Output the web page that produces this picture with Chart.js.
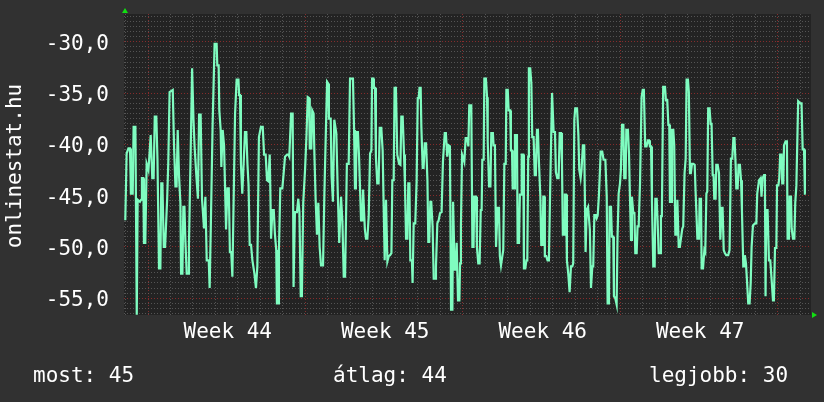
<!DOCTYPE html>
<html>
<head>
<meta charset="utf-8">
<script src="https://cdn.jsdelivr.net/npm/chart.js@4/dist/chart.umd.min.js"></script>
<style>
html,body{margin:0;padding:0;background:#313131;}
canvas{display:block;}
</style>
</head>
<body>
<canvas id="chart" width="824" height="402"></canvas>
<script>
// ===================== Daten =====================
// Zeit in Tagen ab Beginn von Week 44, Wert = negativer Rang
const sampleDays = [
    -1.01,-0.95,-0.87,-0.80,-0.76,-0.68,-0.64,-0.56,-0.50,-0.46,
    -0.36,-0.31,-0.27,-0.21,-0.18,-0.12,-0.06,0.02,0.12,0.19,
    0.25,0.30,0.37,0.42,0.49,0.55,0.59,0.64,0.70,0.76,
    0.85,0.90,0.96,1.10,1.16,1.22,1.27,1.32,1.38,1.44,
    1.47,1.53,1.57,1.62,1.66,1.72,1.78,1.82,1.91,1.96,
    2.02,2.07,2.15,2.22,2.27,2.34,2.40,2.49,2.55,2.61,
    2.70,2.74,2.79,2.87,2.96,3.05,3.08,3.14,3.17,3.23,
    3.26,3.32,3.38,3.47,3.53,3.59,3.64,3.70,3.75,3.87,
    3.94,4.02,
    4.05,4.09,4.13,4.19,4.25,4.31,4.37,4.42,4.47,4.52,
    4.58,4.64,4.73,4.80,4.86,4.93,5.02,5.10,5.16,5.23,
    5.29,5.35,5.41,5.44,5.47,5.53,5.59,5.64,5.70,5.73,
    5.79,5.82,5.88,5.97,6.03,6.09,6.18,6.24,6.28,6.36,
    6.43,6.47,6.53,6.62,6.68,6.73,6.79,6.84,6.90,6.98,
    7.04,7.10,7.16,7.19,7.26,7.30,7.36,7.39,7.45,7.51,
    7.57,7.63,7.69,7.78,7.84,7.90,7.96,8.02,8.04,8.12,
    8.16,8.22,8.28,8.37,8.44,8.50,8.58,8.64,8.70,8.76,
    8.84,8.92,8.98,9.11,
    9.16,9.20,9.24,9.27,9.33,9.38,9.42,9.47,9.53,9.56,
    9.60,9.64,9.69,9.75,9.81,9.87,9.93,9.96,10.02,10.04,
    10.09,10.13,10.19,10.25,10.30,10.37,10.43,10.47,10.52,10.58,
    10.64,10.70,10.76,10.82,10.86,10.92,10.96,11.02,11.08,11.16,
    11.22,11.26,11.32,11.38,11.42,11.47,11.53,11.57,11.62,11.66,
    11.73,11.76,11.81,11.88,11.94,11.99,12.03,12.07,12.12,12.15,
    12.21,12.25,12.30,12.36,12.42,12.46,12.50,12.55,12.59,12.65,
    12.70,12.76,12.80,12.86,12.92,12.98,13.05,13.11,13.19,13.24,
    13.30,13.36,13.42,13.47,13.53,13.56,13.60,13.63,13.69,13.72,
    13.78,13.84,13.87,13.91,13.96,14.02,14.06,14.12,14.19,14.24,
    14.28,
    14.33,14.37,14.42,14.47,14.50,14.58,14.62,14.68,14.74,14.79,
    14.83,14.86,14.92,14.95,15.02,15.07,15.10,15.16,15.22,15.26,
    15.33,15.36,15.42,15.47,15.51,15.54,15.60,15.64,15.69,15.75,
    15.79,15.84,15.90,15.93,15.99,16.03,16.10,16.13,16.18,16.21,
    16.27,16.31,16.40,16.43,16.49,16.53,16.58,16.61,16.68,16.71,
    16.77,16.82,16.86,16.90,16.93,16.99,17.04,17.08,17.14,17.19,
    17.24,17.29,17.33,17.38,17.44,17.48,17.54,17.57,17.62,17.64,
    17.70,17.76,17.82,17.87,17.91,17.96,18.00,18.03,18.09,18.13,
    18.19,18.25,18.30,18.36,18.40,18.44,18.50,18.53,18.58,18.62,
    18.68,18.74,18.80,18.86,18.90,18.95,18.99,19.07,19.13,19.17,
    19.23,19.27,19.33,19.39,
    19.45,19.50,19.56,19.60,19.64,19.69,19.75,19.79,19.84,19.90,
    19.94,19.99,20.04,20.09,20.12,20.19,20.25,20.33,20.39,20.43,
    20.49,20.52,20.58,20.62,20.68,20.71,20.77,20.83,20.87,20.92,
    20.98,21.02,21.07,21.13,21.17,21.23,21.26,21.33,21.38,21.42,
    21.47,21.51,21.57,21.62,21.66,21.72,21.76,21.81,21.87,21.94,
    21.99,22.04,22.10,22.16,22.22,22.27,22.31,22.36,22.40,22.46,
    22.52,22.55,22.61,22.65,22.70,22.76,22.80,22.84,22.90,22.98,
    23.02,23.08,23.13,23.17,23.20,23.26,23.29,23.35,23.39,23.44,
    23.50,23.53,23.59,23.64,23.70,23.75,23.79,23.85,23.90,23.94,
    24.00,24.04,24.09,24.13,24.18,24.24,24.30,24.34,24.42,24.49,
    24.52,24.58,24.61,24.67,24.73,24.77,24.82,24.86,24.90,24.96,
    25.01,25.05,25.10,25.14,25.17,25.23,25.26,25.32,25.38,25.44,
    25.50,25.54,25.59,25.64,25.70,25.79,25.85,25.91,25.97,26.02,
    26.07,26.12,26.15,26.21,26.25,26.31,26.36,26.40,26.46,26.50,
    26.53,26.58,26.62,26.68,26.74,26.79,26.83,26.89,26.98,27.04,
    27.08,27.16,27.23,27.27,27.32,27.38,27.42,27.45,27.48,27.54,
    27.60,27.66,27.72,27.78,27.82,27.87,27.93,27.96,28.02,28.06,
    28.10,28.16,28.19,28.24,28.27,28.34,28.40,28.43,28.49,28.52,
    28.58,28.61,28.67,28.73,28.77,28.82,28.84,28.90,28.99,29.05,
    29.10,29.16,29.20,29.24
];
const sampleRanks = [
    -47.4,-40.9,-40.4,-40.4,-44.8,-44.8,-38.3,-38.3,-56.6,-45.4,
    -45.6,-45.4,-43.3,-43.3,-49.6,-49.6,-41.9,-42.5,-39.1,-43.3,
    -43.3,-37.3,-37.3,-41.4,-52.1,-52.1,-43.8,-43.8,-50.0,-50.0,
    -45.4,-41.9,-34.9,-34.7,-40.4,-44.1,-44.1,-38.6,-43.1,-45.7,
    -52.6,-52.6,-46.1,-46.1,-49.3,-52.6,-52.6,-49.8,-39.1,-32.6,
    -37.5,-40.2,-43.1,-45.3,-37.1,-37.1,-45.3,-48.2,-45.1,-51.3,
    -51.3,-54.0,-48.2,-38.3,-30.2,-30.2,-32.3,-32.3,-36.7,-38.6,
    -42.2,-38.6,-40.1,-48.3,-44.3,-44.3,-50.5,-50.5,-52.9,-37.0,
    -33.7,-33.7,
    -35.2,-35.2,-41.9,-44.8,-41.9,-38.8,-38.8,-41.9,-44.0,-49.8,
    -49.8,-51.3,-52.6,-54.0,-51.9,-39.3,-38.3,-38.3,-41.0,-41.0,
    -43.5,-43.6,-41.0,-44.8,-49.2,-46.4,-46.4,-48.7,-50.3,-55.5,
    -55.5,-50.3,-44.3,-44.3,-42.8,-41.2,-41.0,-41.0,-41.2,-37.0,
    -37.0,-53.9,-46.6,-46.6,-45.3,-46.6,-54.8,-54.8,-45.7,-42.5,
    -39.4,-35.4,-35.5,-40.4,-40.4,-36.7,-37.0,-40.4,-45.3,-48.8,
    -45.7,-50.0,-51.8,-51.8,-44.8,-39.3,-33.9,-34.1,-37.5,-37.5,
    -43.1,-45.6,-37.6,-38.9,-45.1,-49.6,-45.1,-47.5,-52.9,-52.9,
    -41.9,-41.9,-33.6,-33.6,
    -38.6,-44.3,-44.3,-38.8,-38.8,-41.2,-41.2,-47.4,-47.4,-44.4,
    -44.4,-48.3,-49.2,-49.2,-47.0,-40.9,-40.6,-33.6,-33.6,-34.5,
    -34.5,-41.2,-43.8,-43.8,-38.4,-38.4,-40.6,-45.4,-51.3,-45.4,
    -51.4,-50.9,-50.8,-50.6,-43.5,-43.5,-34.5,-34.5,-41.0,-41.9,
    -42.0,-37.3,-37.3,-41.0,-43.8,-49.2,-49.2,-43.8,-43.8,-51.3,
    -51.3,-53.5,-47.7,-47.7,-43.6,-35.5,-35.5,-34.5,-34.5,-38.3,
    -42.3,-42.3,-39.9,-39.9,-43.5,-49.5,-49.5,-45.6,-45.6,-48.0,
    -53.1,-53.1,-51.9,-47.7,-47.4,-46.7,-46.6,-41.7,-38.9,-38.9,
    -41.2,-40.1,-40.2,-56.1,-56.1,-45.6,-45.6,-52.2,-52.2,-49.6,
    -55.2,-55.2,-51.6,-47.9,-41.0,-41.4,-41.7,-39.4,-39.4,-40.2,
    -36.2,
    -36.2,-36.2,-50.0,-50.0,-45.1,-45.1,-50.0,-51.6,-51.6,-46.4,
    -46.4,-41.5,-41.5,-33.6,-33.6,-35.4,-39.7,-44.1,-44.1,-38.9,
    -38.9,-40.1,-40.1,-50.0,-50.0,-46.2,-46.2,-50.9,-51.8,-50.9,
    -50.3,-41.9,-41.9,-34.7,-34.7,-36.7,-36.7,-40.6,-40.6,-44.3,
    -44.3,-39.1,-39.1,-49.6,-49.6,-44.9,-44.9,-41.0,-41.0,-52.1,
    -52.1,-51.3,-51.3,-41.2,-32.6,-32.6,-34.1,-39.3,-39.3,-43.0,
    -43.0,-38.6,-38.6,-41.9,-45.1,-49.8,-49.8,-45.1,-45.1,-50.9,
    -50.9,-51.3,-51.3,-45.1,-45.1,-35.0,-35.0,-38.8,-38.8,-42.7,
    -43.3,-43.3,-38.9,-38.9,-41.7,-48.8,-48.8,-44.9,-44.9,-51.3,
    -52.6,-54.4,-51.9,-51.9,-51.6,-37.6,-36.5,-36.5,-39.1,-42.5,
    -43.3,-42.5,-40.1,-40.1,
    -50.5,-46.4,-46.1,-46.1,-48.3,-54.0,-51.9,-51.9,-46.9,-46.9,
    -47.2,-46.9,-45.1,-42.5,-40.7,-40.7,-41.5,-41.5,-45.1,-55.5,
    -55.5,-46.1,-46.1,-49.0,-49.0,-54.8,-55.0,-55.6,-49.0,-44.8,
    -43.8,-42.5,-38.1,-38.1,-43.3,-43.3,-38.6,-38.6,-40.9,-44.9,
    -49.3,-45.1,-46.7,-46.7,-50.6,-50.6,-48.0,-48.0,-43.8,-35.4,
    -34.7,-34.7,-40.2,-40.2,-39.6,-39.6,-40.2,-40.2,-45.6,-51.9,
    -51.9,-45.3,-45.3,-47.4,-50.6,-50.6,-47.0,-47.0,-34.4,-34.4,
    -35.7,-35.7,-38.1,-38.1,-45.6,-45.6,-38.6,-38.6,-40.1,-48.8,
    -48.8,-45.4,-50.0,-50.0,-49.0,-48.2,-48.0,-42.8,-41.4,-33.7,
    -33.7,-34.9,-42.8,-42.8,-41.9,-41.9,-42.0,-44.6,-49.2,-49.2,
    -45.3,-45.3,-52.1,-52.1,-50.3,-50.5,-44.8,-44.6,-36.5,-36.5,
    -38.0,-38.0,-43.0,-43.0,-45.3,-45.3,-42.0,-42.0,-42.8,-49.3,
    -46.2,-46.2,-50.3,-50.6,-50.8,-50.8,-50.3,-41.4,-41.4,-39.4,
    -39.4,-42.0,-44.3,-44.3,-42.0,-42.0,-43.5,-46.4,-51.9,-51.9,
    -50.8,-51.6,-53.1,-55.5,-55.5,-53.5,-50.0,-47.9,-47.7,-47.7,
    -44.8,-43.5,-43.3,-45.1,-43.3,-43.0,-43.0,-54.8,-46.4,-46.4,
    -51.3,-51.3,-53.2,-55.2,-55.2,-50.1,-50.1,-44.0,-44.0,-43.3,
    -41.0,-41.0,-43.8,-43.8,-40.1,-39.7,-39.7,-49.2,-49.2,-45.1,
    -45.1,-48.2,-49.2,-49.2,-45.7,-44.0,-44.0,-35.8,-36.0,-36.0,
    -40.5,-40.5,-44.8,-44.8
];

const yTicks = [-30, -35, -40, -45, -50, -55];
const weekLabels = ["Week 44", "Week 45", "Week 46", "Week 47"];
const weekMids = [3.5, 10.5, 17.5, 24.5];
const yTitle = "onlinestat.hu";
const footer = ["most: 45", "átlag: 44", "legjobb: 30"];

const dayMin = -1.067, dayMax = 29.47;
const rankMin = -56.63, rankMax = -27.30;

// ===================== Farben =====================
const FONT = '21px "DejaVu Sans Mono", monospace';
const C_BG = "#313131", C_PLOT = "#232323";
const C_MINOR = "rgba(105,105,105,0.7)", C_MAJOR = "rgba(140,45,45,0.95)";
const C_LINE = "#7ffcc0", C_ARROW = "#12e012", C_TEXT = "#ffffff";

if (sampleDays.length !== sampleRanks.length) console.warn("length mismatch", sampleDays.length, sampleRanks.length);

// ===================== Plugin: Rahmen, Texte, Pfeile =====================
const rrdFrame = {
    id: "rrdFrame",
    beforeDraw(chart){
        const {ctx, chartArea:a} = chart;
        ctx.save();
        ctx.fillStyle = C_BG;
        ctx.fillRect(0, 0, chart.width, chart.height);
        ctx.fillStyle = C_PLOT;
        ctx.fillRect(a.left, a.top, a.right - a.left, a.bottom - a.top);
        ctx.restore();
    },
    afterDraw(chart){
        const {ctx, chartArea:a} = chart;
        const xs = chart.scales.x, ys = chart.scales.y;
        ctx.save();
        ctx.font = FONT;
        ctx.fillStyle = C_TEXT;
        ctx.textBaseline = "alphabetic";

        ctx.textAlign = "right";
        yTicks.forEach(v=>{
            ctx.fillText(v.toFixed(1).replace(".", ","), 109, ys.getPixelForValue(v) + 8);
        });

        ctx.textAlign = "center";
        weekLabels.forEach((t,i)=>{
            ctx.fillText(t, xs.getPixelForValue(weekMids[i]) + 1, 338);
        });

        ctx.textAlign = "left";
        ctx.fillText(footer[0], 33, 382);
        ctx.fillText(footer[1], 333, 382);
        ctx.fillText(footer[2], 649, 382);

        ctx.save();
        ctx.translate(21, 166);
        ctx.rotate(-Math.PI/2);
        ctx.textAlign = "center";
        ctx.fillText(yTitle, 0, 0);
        ctx.restore();

        // Achsenpfeile
        ctx.fillStyle = C_ARROW;
        ctx.beginPath();
        ctx.moveTo(a.left + 1, a.top - 6);
        ctx.lineTo(a.left - 2, a.top - 1);
        ctx.lineTo(a.left + 4, a.top - 1);
        ctx.closePath();
        ctx.fill();
        ctx.beginPath();
        ctx.moveTo(a.right + 6, a.bottom);
        ctx.lineTo(a.right + 1, a.bottom - 3);
        ctx.lineTo(a.right + 1, a.bottom + 3);
        ctx.closePath();
        ctx.fill();
        ctx.restore();
    }
};

// ===================== Chart =====================
new Chart(document.getElementById("chart"), {
    type: "line",
    data: {
        datasets: [{
            data: sampleDays.map((d,i)=>({x:d, y:sampleRanks[i]})),
            borderColor: C_LINE,
            borderWidth: 2.2,
            pointRadius: 0,
            tension: 0,
            fill: false
        }]
    },
    options: {
        responsive: false,
        animation: false,
        events: [],
        layout: {padding: {left:124, right:13, top:14, bottom:87}},
        plugins: {legend:{display:false}, tooltip:{enabled:false}},
        scales: {
            x: {
                type: "linear",
                min: dayMin, max: dayMax,
                afterBuildTicks(s){
                    const t = [];
                    for(let d=Math.ceil(s.min); d<=s.max; d++) t.push({value:d});
                    s.ticks = t;
                },
                ticks: {display:false},
                grid: {
                    drawTicks: false,
                    lineWidth: 1,
                    color: c => (c.tick && c.tick.value % 7 === 0) ? C_MAJOR : C_MINOR
                },
                border: {display:false, dash:[1,2]}
            },
            y: {
                min: rankMin, max: rankMax,
                afterBuildTicks(s){
                    const t = [];
                    for(let v=Math.ceil(s.min*2)/2; v<=s.max; v+=0.5) t.push({value:v});
                    s.ticks = t;
                },
                ticks: {display:false},
                grid: {
                    drawTicks: false,
                    lineWidth: 1,
                    color: c => (c.tick && c.tick.value % 5 === 0) ? C_MAJOR : C_MINOR
                },
                border: {display:false, dash:[1,2]}
            }
        }
    },
    plugins: [rrdFrame]
});
</script>
</body>
</html>
